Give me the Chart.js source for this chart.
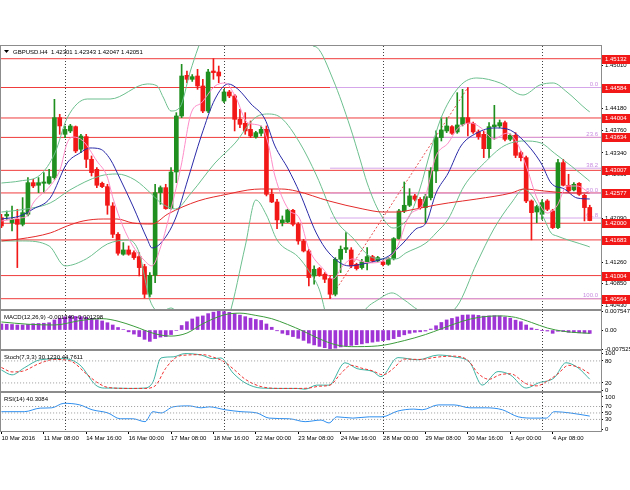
<!DOCTYPE html>
<html lang="en">
<head>
<meta charset="utf-8">
<title>GBPUSD H4</title>
<style>
  body { margin: 0; background: #fff; }
  #wrap { position: relative; width: 630px; height: 490px; }
  #wrap canvas { position: absolute; left: 0; top: 0; }
</style>
</head>
<body>
<div id="wrap">
  <canvas id="main" width="630" height="490"></canvas>
  <canvas id="macd" width="630" height="490"></canvas>
  <canvas id="stoch" width="630" height="490"></canvas>
  <canvas id="rsi" width="630" height="490"></canvas>
</div>
<script src="https://cdn.jsdelivr.net/npm/chart.js@4.4.1/dist/chart.umd.min.js"></script>
<script>
// H4 candles, bar 0 = 10 Mar 2016 00:00
const opens = [1.42107,1.42139,1.42012,1.42075,1.41980,1.42171,1.42773,1.42723,1.42761,1.42761,
  1.42869,1.44010,1.43693,1.43757,1.43839,1.43408,1.43649,1.43217,1.43027,1.42761,
  1.42697,1.42329,1.41790,1.41410,1.41492,1.41441,1.41365,1.41175,1.40649,1.41010,
  1.42583,1.42678,1.42279,1.42976,1.44042,1.44816,1.44740,1.44803,1.44613,1.44137,
  1.44898,1.44879,1.44327,1.44499,1.44423,1.43978,1.43902,1.43788,1.43642,1.43712,
  1.43788,1.42551,1.42405,1.42012,1.42025,1.42247,1.41980,1.41663,1.41473,1.40997,
  1.41137,1.41029,1.40947,1.40649,1.41314,1.41505,1.41492,1.41219,1.41156,1.41264,
  1.41365,1.41283,1.41264,1.41219,1.41327,1.41708,1.42234,1.42342,1.42520,1.42456,
  1.42298,1.42488,1.42995,1.43630,1.43757,1.43839,1.43738,1.43883,1.44010,1.43902,
  1.43738,1.43693,1.43420,1.43839,1.43852,1.43915,1.43598,1.43674,1.43344,1.43249,
  1.42424,1.42215,1.42171,1.42424,1.42234,1.41917,1.43154,1.42723,1.42634,1.42761,
  1.42532,1.42301];
const highs = [1.42171,1.42234,1.42329,1.42266,1.42488,1.42869,1.42837,1.42869,1.42964,1.43027,
  1.44359,1.44074,1.43852,1.43883,1.43852,1.43693,1.43693,1.43281,1.43059,1.42786,
  1.42742,1.42393,1.41822,1.41632,1.41568,1.41473,1.41441,1.41219,1.41061,1.42742,
  1.42710,1.42742,1.43059,1.44105,1.45025,1.44898,1.44830,1.44930,1.44740,1.44930,
  1.45132,1.44993,1.44549,1.44530,1.44454,1.44169,1.44105,1.43947,1.43750,1.43852,
  1.43852,1.42647,1.42456,1.42139,1.42266,1.42266,1.42012,1.41695,1.41505,1.41188,
  1.41160,1.41061,1.40997,1.41346,1.41568,1.41822,1.41536,1.41240,1.41314,1.41536,
  1.41390,1.41370,1.41290,1.41350,1.41727,1.42266,1.42786,1.42659,1.42551,1.42488,
  1.42551,1.43059,1.43757,1.44010,1.44010,1.43860,1.44486,1.44549,1.44584,1.43928,
  1.43776,1.43757,1.43915,1.44245,1.43966,1.43947,1.43700,1.43725,1.43376,1.43281,
  1.42444,1.42342,1.42444,1.42450,1.42266,1.43217,1.43217,1.42932,1.42773,1.42773,
  1.42551,1.42343];
const lows = [1.41917,1.42075,1.41854,1.41156,1.41949,1.42139,1.42678,1.42583,1.42583,1.42742,
  1.42837,1.43693,1.43630,1.43725,1.43344,1.43344,1.43059,1.42900,1.42678,1.42678,
  1.42171,1.41727,1.41391,1.41391,1.41391,1.41314,1.40997,1.40580,1.40600,1.40870,
  1.42361,1.42266,1.42266,1.42773,1.44010,1.44676,1.44700,1.44549,1.44105,1.44105,
  1.44740,1.44676,1.44296,1.44390,1.43757,1.43820,1.43693,1.43630,1.43620,1.43661,
  1.42520,1.42393,1.41898,1.41949,1.42012,1.41949,1.41600,1.41454,1.40807,1.40839,
  1.40990,1.40870,1.40564,1.40617,1.41061,1.41441,1.41156,1.41110,1.41124,1.41111,
  1.41260,1.41270,1.41190,1.41200,1.41302,1.41695,1.42202,1.42317,1.42424,1.42266,
  1.42012,1.42444,1.42773,1.43566,1.43725,1.43690,1.43712,1.43852,1.43661,1.43712,
  1.43598,1.43249,1.43249,1.43598,1.43820,1.43566,1.43570,1.43249,1.43186,1.42393,
  1.41683,1.42012,1.42075,1.42240,1.41898,1.41898,1.42710,1.42583,1.42615,1.42532,
  1.42044,1.42047];
const closes = [1.41949,1.42171,1.42075,1.41980,1.42202,1.42773,1.42710,1.42773,1.42786,1.42888,
  1.44010,1.43852,1.43788,1.43852,1.43376,1.43661,1.43217,1.42964,1.42723,1.42697,
  1.42342,1.41790,1.41429,1.41492,1.41410,1.41346,1.41156,1.40649,1.41010,1.42583,
  1.42678,1.42279,1.42976,1.44042,1.44803,1.44740,1.44790,1.44613,1.44137,1.44879,
  1.44867,1.44803,1.44499,1.44423,1.43978,1.43883,1.43757,1.43661,1.43725,1.43788,
  1.42551,1.42405,1.42063,1.42063,1.42253,1.41980,1.41663,1.41473,1.40966,1.41124,
  1.41010,1.40934,1.40649,1.41314,1.41505,1.41536,1.41188,1.41137,1.41264,1.41365,
  1.41283,1.41346,1.41213,1.41327,1.41708,1.42234,1.42342,1.42520,1.42456,1.42298,
  1.42507,1.42995,1.43630,1.43776,1.43852,1.43712,1.43871,1.44010,1.43902,1.43738,
  1.43649,1.43420,1.43839,1.43871,1.43915,1.43598,1.43674,1.43293,1.43249,1.42424,
  1.42202,1.42317,1.42393,1.42266,1.41917,1.43154,1.42723,1.42615,1.42742,1.42551,
  1.42298,1.42051];

const timeLabels = ['10 Mar 2016','11 Mar 08:00','14 Mar 16:00','16 Mar 00:00','17 Mar 08:00',
  '18 Mar 16:00','22 Mar 00:00','23 Mar 08:00','24 Mar 16:00','28 Mar 00:00','29 Mar 08:00',
  '30 Mar 16:00','1 Apr 00:00','4 Apr 08:00'];
const tickBars = [0,8,16,24,32,40,48,56,64,72,80,88,96,104];
const weekStarts = [12,42,72,102];

const levels = [1.45132,1.44584,1.44004,1.43634,1.43007,1.42577,1.42000,1.41683,1.41004,1.40564];
const fibLevels = [1.44584,1.43635,1.43048,1.42574,1.42100,1.40564];
const fibNames = ['0.0','23.6','38.2','50.0','61.8','100.0'];
const fibFrom = [62,1.40564], fibTo = [88,1.44584];
const priceTicks = [1.45010,1.44590,1.44180,1.43760,1.43340,1.42930,1.42510,1.42090,1.41680,1.41260,1.40850,1.40430];

// indicator lines: [bar, value]
const bbUpper = [[0,1.42766],[3.5,1.42805],[7.3,1.42919],[10.1,1.43337],[12.4,1.44003],[16.2,1.44365],
  [20.5,1.44365],[27.5,1.44651],[29.4,1.44612],[30.5,1.44403],[32,1.44137],[33.7,1.44213],[35.6,1.44879],
  [37.1,1.45336],[38.4,1.45678],[40,1.46249],[42,1.46535],[45,1.46249],[47,1.45945],[50,1.46002],
  [53,1.46249],[56.3,1.45773],[58.8,1.45374],[59.5,1.45350],[62.6,1.44727],[65.8,1.43832],[67.7,1.43204],
  [69,1.42766],[71.4,1.42195],[73.9,1.41910],[75.2,1.41948],[77.1,1.42157],[79,1.42671],[80.9,1.43356],
  [82.8,1.43966],[84.6,1.44346],[87.1,1.44670],[89.7,1.44765],[94.1,1.44670],[98.4,1.44441],
  [101.6,1.44632],[104.1,1.44670],[106.7,1.44498],[110.5,1.44156],[111,1.44120]];
const bbMid = [[0,1.42214],[3.5,1.42253],[9.2,1.42386],[12.9,1.42633],[18.6,1.42900],[21.8,1.42938],
  [25.2,1.42824],[28.4,1.42550],[30.1,1.42386],[32.8,1.42272],[35.8,1.42576],[40.3,1.43147],[44.1,1.43528],
  [47.8,1.44003],[50.3,1.44080],[52.8,1.44003],[56.3,1.43528],[59.4,1.42919],[63.1,1.42062],[66.3,1.41720],
  [69.4,1.41378],[72,1.41321],[74.5,1.41321],[76.3,1.41435],[80.1,1.41625],[82,1.41815],[84.3,1.42081],
  [87.3,1.42709],[91.1,1.43147],[94.8,1.43471],[98.6,1.43566],[101.8,1.43528],[104.3,1.43337],
  [107.5,1.43090],[110.5,1.42843],[111,1.42800]];
const bbLower = [[0,1.41663],[4,1.41663],[9,1.41568],[12,1.41188],[16,1.41321],[20,1.41606],[24,1.41682],
  [26,1.41435],[28,1.40541],[30,1.40312],[32,1.40388],[35,1.39969],[39,1.39398],[43,1.40255],[46,1.41568],
  [48,1.42443],[50,1.42157],[52,1.41682],[56,1.41359],[58,1.41093],[60,1.40731],[62,1.39969],[64,1.39683],
  [66,1.39874],[68.6,1.40350],[71,1.40541],[73.7,1.40674],[76,1.40541],[78.6,1.40350],[82,1.40198],
  [86,1.40426],[89.7,1.41245],[92.9,1.41891],[96.2,1.42386],[98.6,1.42652],[100.5,1.42462],[102.4,1.42081],
  [103.7,1.41815],[104.8,1.41758],[107.5,1.41663],[110.5,1.41568],[111,1.41549]];
const maBlue = [[0,1.42081],[3.5,1.42138],[6,1.42272],[9.2,1.42481],[12.4,1.43147],[14.8,1.43337],
  [16.7,1.43433],[18.6,1.43414],[20.5,1.43223],[22.4,1.42843],[24.8,1.42329],[27.5,1.41701],[28.4,1.41530],
  [30.1,1.41625],[32.8,1.42081],[35.2,1.42843],[37.7,1.43661],[40.3,1.44365],[42.8,1.44651],[44.6,1.44555],
  [47.1,1.44270],[49.7,1.43985],[51.6,1.43471],[54.1,1.43033],[56.3,1.42576],[59.4,1.41815],[61.8,1.41435],
  [65.6,1.41188],[68.2,1.41226],[70.7,1.41283],[73.1,1.41378],[75.8,1.41625],[78.2,1.41891],[80.1,1.42005],
  [82,1.42576],[84.3,1.42957],[86.7,1.43471],[89.7,1.43718],[92.9,1.43814],[95.4,1.43795],[98,1.43623],
  [101.8,1.43147],[103.7,1.42766],[106.2,1.42652],[108.6,1.42481],[111,1.42462]];
const maPink = [[0,1.42043],[3.5,1.42100],[4.8,1.42138],[6,1.42386],[9.2,1.42709],[11.1,1.43033],
  [12.4,1.43528],[13.5,1.43642],[15.4,1.43566],[18,1.43185],[19.9,1.42900],[21.1,1.42462],[22.9,1.41948],
  [24.8,1.41568],[26.7,1.41321],[28.4,1.41188],[30.1,1.41568],[32,1.42272],[33.9,1.43090],[35.8,1.44099],
  [37.7,1.44289],[40.3,1.44612],[42.2,1.44670],[44.1,1.44422],[46.5,1.43909],[49,1.43852],[50.3,1.43528],
  [51.6,1.42900],[54.1,1.42272],[56.3,1.42081],[58,1.41510],[60.7,1.41130],[62.6,1.40940],[64.4,1.41188],
  [66.3,1.41321],[69.4,1.41245],[72,1.41283],[74.5,1.41511],[76.9,1.42138],[79.6,1.42386],[82,1.43280],
  [84.3,1.43528],[86,1.43794],[88.6,1.43909],[90.5,1.43814],[92.9,1.43604],[95.4,1.43718],[97.3,1.43528],
  [99.2,1.43033],[101.1,1.42462],[103,1.42195],[104.8,1.42328],[106.7,1.42709],[108.6,1.42709],[111,1.42576]];
const maRed = [[0,1.41663],[3.5,1.41701],[9.2,1.41815],[12.4,1.41948],[15.4,1.42043],[19.2,1.42081],
  [21.8,1.42081],[24.8,1.42005],[28.4,1.41986],[31.4,1.42176],[37.1,1.42424],[42.8,1.42557],[46.5,1.42633],
  [49,1.42652],[52.8,1.42652],[55.6,1.42614],[61.8,1.42424],[68.2,1.42272],[72,1.42214],[74.5,1.42214],
  [78.2,1.42272],[82,1.42348],[84.3,1.42386],[89.7,1.42462],[96.2,1.42576],[98.6,1.42652],[102.4,1.42614],
  [107.5,1.42576],[111,1.42576]];

// MACD(12,26,9): one histogram value per bar, signal as [bar, value]
const macdHist = [0.0024,0.0023,0.0022,0.0020,0.0020,0.0022,0.0025,0.0026,0.0027,0.0029,
  0.0040,0.0047,0.0052,0.0055,0.0054,0.0053,0.0050,0.0046,0.0041,0.0036,
  0.0029,0.0020,0.0010,0.0002,-0.0007,-0.0016,-0.0026,-0.0037,-0.0045,-0.0034,
  -0.0028,-0.0026,-0.0018,-0.0002,0.0018,0.0033,0.0044,0.0052,0.0056,0.0065,
  0.0071,0.007547,0.0073,0.0070,0.0065,0.0059,0.0053,0.0047,0.0042,0.0038,
  0.0024,0.0011,-0.0003,-0.0013,-0.0019,-0.0026,-0.0033,-0.0041,-0.0052,-0.0059,
  -0.0065,-0.0070,-0.007525,-0.0072,-0.0067,-0.0063,-0.0061,-0.0058,-0.0055,-0.0051,
  -0.0048,-0.0045,-0.0042,-0.0039,-0.0034,-0.0026,-0.0019,-0.0013,-0.0009,-0.0007,
  -0.0004,0.0004,0.0017,0.0030,0.0040,0.0046,0.0052,0.0059,0.0060,0.0060,
  0.0058,0.0055,0.0056,0.0057,0.0056,0.0051,0.0047,0.0039,0.0033,0.0020,
  0.0008,0.0003,-0.0001,-0.0004,-0.0013,-0.0005,-0.0006,-0.0009,-0.0010,-0.0011,
  -0.0012,-0.001349];
const macdSignal = [[0,0.0032],[5,0.0023],[10,0.0020],[15,0.0038],[19,0.0045],[22,0.0035],[25,0.0015],
  [29,-0.0015],[32,-0.0024],[35,-0.0012],[38,0.0025],[42,0.0060],[45,0.0067],[48,0.0058],[51,0.0045],
  [54,0.0022],[57,-0.0005],[60,-0.0035],[63,-0.0058],[66,-0.0066],[71,-0.0063],[76,-0.0042],[80,-0.0018],
  [83,0.0005],[87,0.0035],[90,0.0050],[94,0.0056],[97,0.0050],[100,0.0030],[103,0.0008],[106,-0.0005],
  [109,-0.0011],[111,-0.001298]];

// Stoch(7,3,3) and RSI(14): [bar, value]
const stochMain = [[0,55],[2,42],[4.3,61],[7.3,83],[11.8,86],[14.8,69],[17.8,14],[19.4,6],[20.9,6],[24.3,5],
  [27.1,6],[28.6,23],[30.1,88],[32.4,91],[34.6,100],[37.7,96],[39.9,86],[41.4,88],[43.7,47],[46,20],[49,6],
  [52.8,5],[55.8,5],[57.3,3],[59.5,14],[61.8,14],[64.8,75],[67.1,59],[70.1,51],[71.6,37],[74.8,89],[78.6,83],
  [82.4,96],[85.4,91],[88.4,75],[90.7,14],[93.7,51],[96,42],[99,6],[101.3,20],[104.3,34],[106.5,75],
  [108.8,61],[111,30.123]];
const stochSignal = [[0,62],[2,50],[4,52],[7,72],[10,84],[13,80],[16,45],[18,22],[20,8],[24,5],[27,5],[29,12],
  [31,60],[33,90],[35,96],[38,97],[40,90],[42,78],[44,55],[46,30],[49,10],[53,5],[56,5],[58,6],[60,11],[62,14],
  [64,45],[66,68],[68,60],[70,53],[72,42],[74,60],[76,85],[79,84],[82,90],[85,93],[88,82],[90,45],[92,30],
  [94,42],[96,45],[99,18],[101,12],[103,25],[105,45],[107,68],[109,62],[111,44.7611]];
const rsiLine = [[0,54],[4.3,54],[7.3,65],[9.5,66],[11.8,80],[14.8,75],[17.1,60],[20.1,50],[22.4,32],[24.8,32],
  [27.1,23],[28.6,54],[30.1,50],[32.4,69],[35.4,72],[37.7,66],[39.2,69],[42.2,60],[45.2,54],[48.2,50],
  [50.5,34],[54.3,32],[57.3,23],[60.3,28],[61.8,19],[63.3,38],[66.3,34],[69.4,38],[71.8,38],[74.8,56],
  [77.8,62],[79.4,60],[82.4,75],[85.4,75],[88.4,66],[91.4,66],[94.5,60],[97.5,38],[100.5,34],[102.8,34],
  [104.3,54],[107.3,50],[111,40.3084]];

const FONT = "'Liberation Sans',Arial,sans-serif";
const FS = 6;
const BULL = '#1f8f1f', BEAR = '#f21818';
const X_MIN = -0.08, X_MAX = 113.12;

const pts = arr => arr.map(([x, y]) => ({ x, y }));
const hLines = (vals, from, to) => vals.flatMap(v => [{ x: from, y: v }, { x: to, y: v }, { x: to, y: null }]);
const line = (data, color, width, extra) => Object.assign({
  type: 'line', data, borderColor: color, borderWidth: width || 1, pointRadius: 0,
  cubicInterpolationMode: 'monotone', fill: false
}, extra || {});

function xAxis(show) {
  return {
    type: 'linear', min: X_MIN, max: X_MAX, offset: false, display: show,
    border: { display: false },
    grid: { drawOnChartArea: false, drawTicks: true, tickLength: 3, color: '#000' },
    afterBuildTicks: s => { s.ticks = tickBars.map(v => ({ value: v })); },
    afterFit: s => { s.height = show ? 14 : 0; },
    ticks: {
      autoSkip: false, maxRotation: 0, align: 'start', padding: 1, color: '#000',
      font: { family: FONT, size: FS },
      callback: v => timeLabels[tickBars.indexOf(v)]
    }
  };
}
function yAxis(min, max, ticks, fmt) {
  return {
    position: 'right', min, max,
    border: { display: false },
    grid: { drawOnChartArea: false, drawTicks: true, tickLength: 2, color: '#000' },
    afterFit: s => { s.width = 29; },
    afterBuildTicks: s => { s.ticks = ticks.map(v => ({ value: v })); },
    ticks: { autoSkip: false, color: '#000', padding: 2, font: { family: FONT, size: FS }, callback: fmt }
  };
}

// frame, week separators and the panel caption
const panel = {
  id: 'panel',
  beforeDatasetsDraw(chart) {
    const { ctx, chartArea: a, scales } = chart;
    ctx.save();
    ctx.strokeStyle = '#404040';
    ctx.lineWidth = 1;
    ctx.setLineDash([1, 2]);
    weekStarts.forEach(b => {
      const x = Math.round(scales.x.getPixelForValue(b)) + 0.5;
      ctx.beginPath(); ctx.moveTo(x, a.top); ctx.lineTo(x, a.bottom); ctx.stroke();
    });
    ctx.restore();
  },
  afterDraw(chart, args, opts) {
    const { ctx, chartArea: a } = chart;
    ctx.save();
    ctx.strokeStyle = '#8c8c8c';
    ctx.lineWidth = 1;
    ctx.strokeRect(a.left - 0.5, a.top - 0.5, a.right - a.left + 1, a.bottom - a.top + 1);
    ctx.fillStyle = '#000';
    ctx.font = FS + 'px ' + FONT;
    ctx.textBaseline = 'middle';
    ctx.fillText(opts.label, a.left + (opts.indent || 3), a.top + 6);
    ctx.restore();
  }
};

// fibo captions under the candles, red price tags on the axis
const tags = {
  id: 'tags',
  beforeDatasetsDraw(chart) {
    const { ctx, chartArea: a, scales } = chart;
    ctx.save();
    ctx.font = FS + 'px ' + FONT;
    ctx.textBaseline = 'bottom';
    ctx.textAlign = 'right';
    ctx.fillStyle = '#c98ce0';
    fibLevels.forEach((v, k) => ctx.fillText(fibNames[k], a.right - 3, scales.y.getPixelForValue(v)));
    ctx.restore();
  },
  afterDraw(chart) {
    const { ctx, chartArea: a, scales } = chart;
    ctx.save();
    ctx.font = FS + 'px ' + FONT;
    ctx.textAlign = 'left';
    ctx.textBaseline = 'middle';
    levels.forEach(v => {
      const py = Math.round(scales.y.getPixelForValue(v));
      ctx.fillStyle = '#f21818';
      ctx.fillRect(a.right + 1, py - 4, 29, 9);
      ctx.fillStyle = '#fff';
      ctx.fillText(v.toFixed(5), a.right + 4, py + 0.5);
    });
    ctx.fillStyle = '#000';
    ctx.beginPath();
    ctx.moveTo(a.left + 3, a.top + 4); ctx.lineTo(a.left + 8, a.top + 4); ctx.lineTo(a.left + 5.5, a.top + 7);
    ctx.fill();
    ctx.restore();
  }
};

const base = (top, bottom, label, indent) => ({
  responsive: false, animation: false, devicePixelRatio: 1, events: [],
  layout: { padding: { top, bottom, left: 1, right: 0 } },
  plugins: { legend: { display: false }, tooltip: { enabled: false }, panel: { label, indent } }
});

const bars = opens.map((o, i) => i);
const candleColors = bars.map(i => closes[i] >= opens[i] ? BULL : BEAR);

// main price window
const mainOpts = base(46, 181, 'GBPUSD.H4  1.42301 1.42343 1.42047 1.42051', 12);
mainOpts.scales = {
  x: xAxis(false),
  y: yAxis(1.40368, 1.45374, priceTicks, v => v.toFixed(5))
};
new Chart(document.getElementById('main'), {
  type: 'bar',
  data: {
    datasets: [
      line(hLines(levels, -1, 120), '#f03c3c', 1, { order: 10, cubicInterpolationMode: 'default', tension: 0 }),
      line(hLines(fibLevels, fibFrom[0], 120), '#d6a6ea', 1, { order: 9, cubicInterpolationMode: 'default', tension: 0 }),
      line(pts([fibFrom, fibTo]), '#e85050', 1, { order: 8, borderDash: [2, 2] }),
      { type: 'bar', order: 6, grouped: false, barThickness: 1, borderWidth: 0,
        data: bars.map(i => ({ x: i, y: [lows[i], highs[i]] })), backgroundColor: candleColors },
      { type: 'bar', order: 5, grouped: false, barThickness: 4, minBarLength: 1, borderWidth: 0,
        data: bars.map(i => ({ x: i, y: [opens[i], closes[i]] })), backgroundColor: candleColors },
      line(pts(bbUpper), '#6cbf8e', 1, { order: 3 }),
      line(pts(bbMid), '#6cbf8e', 1, { order: 3 }),
      line(pts(bbLower), '#6cbf8e', 1, { order: 3 }),
      line(pts(maRed), '#e42a2a', 1, { order: 2 }),
      line(pts(maBlue), '#2a2aa8', 1, { order: 2 }),
      line(pts(maPink), '#ff8cc8', 1, { order: 1 })
    ]
  },
  options: mainOpts,
  plugins: [panel, tags]
});

// MACD
const macdOpts = base(311, 141, 'MACD(12,26,9) -0.001349 -0.001298');
macdOpts.scales = {
  x: xAxis(false),
  y: yAxis(-0.007525, 0.007547, [0.007547, 0, -0.007525], v => v === 0 ? '0.00' : v.toFixed(6))
};
new Chart(document.getElementById('macd'), {
  type: 'bar',
  data: {
    datasets: [
      line(pts(macdSignal), '#3c9c3c', 1, { order: 1 }),
      { type: 'bar', order: 2, barThickness: 3, borderWidth: 0, backgroundColor: '#a035d6',
        data: macdHist.map((v, i) => ({ x: i, y: v })) }
    ]
  },
  options: macdOpts,
  plugins: [panel]
});

// Stochastic
const stochOpts = base(351, 99, 'Stoch(7,3,3) 30.1230 44.7611');
stochOpts.scales = { x: xAxis(false), y: yAxis(-2, 107, [100, 80, 20, 0], v => String(v)) };
new Chart(document.getElementById('stoch'), {
  type: 'line',
  data: {
    datasets: [
      line(hLines([80, 20], -1, 120), '#9a9a9a', 1, { borderDash: [1, 2], cubicInterpolationMode: 'default' }),
      line(pts(stochSignal), '#f03030', 1, { borderDash: [3, 2] }),
      line(pts(stochMain), '#3fb3a3', 1)
    ]
  },
  options: stochOpts,
  plugins: [panel]
});

// RSI + time axis
const rsiOpts = base(393, 45, 'RSI(14) 40.3084');
rsiOpts.scales = { x: xAxis(true), y: yAxis(-6, 112, [100, 70, 50, 30, 0], v => String(v)) };
new Chart(document.getElementById('rsi'), {
  type: 'line',
  data: {
    datasets: [
      line(hLines([70, 50, 30], -1, 120), '#9a9a9a', 1, { borderDash: [1, 2], cubicInterpolationMode: 'default' }),
      line(pts(rsiLine), '#2f8fef', 1)
    ]
  },
  options: rsiOpts,
  plugins: [panel]
});
</script>
</body>
</html>
